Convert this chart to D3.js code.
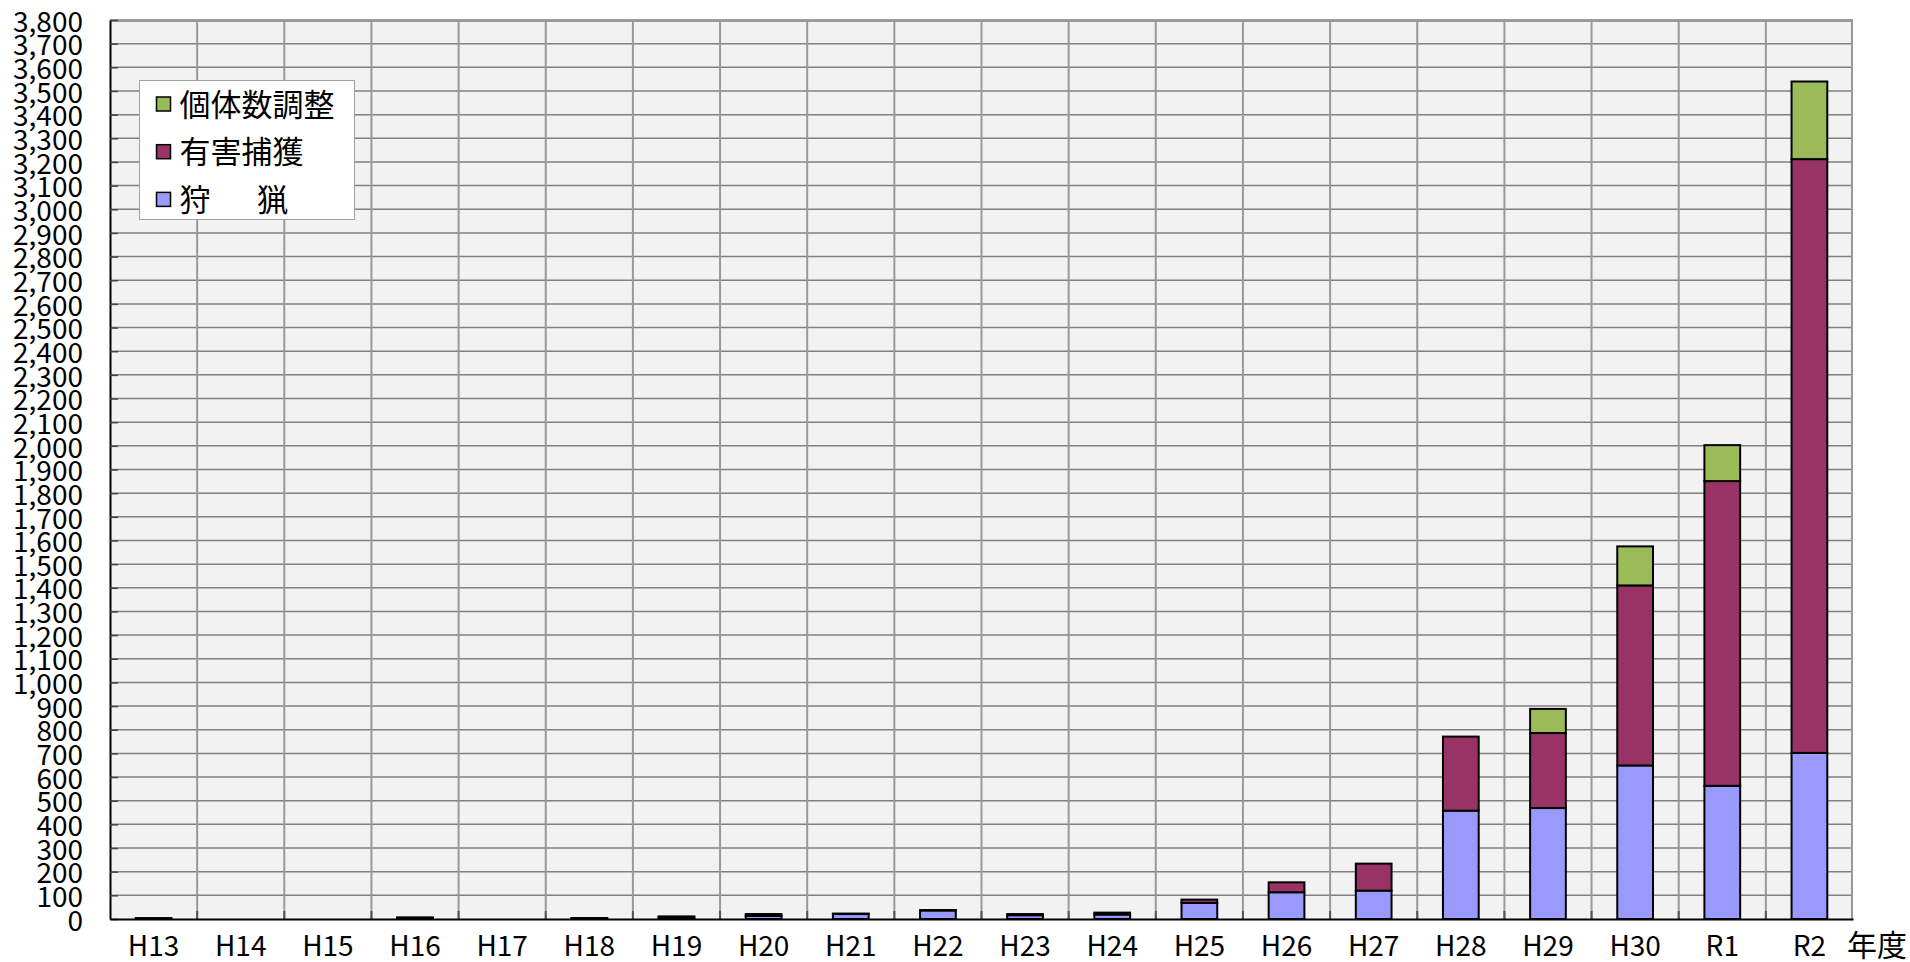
<!DOCTYPE html>
<html>
<head>
<meta charset="utf-8">
<script src="https://cdnjs.cloudflare.com/ajax/libs/d3/7.8.5/d3.min.js"></script>
<style>
  body { margin: 0; background: #fff; }
  text { font-family: "Noto Sans CJK JP", "Noto Sans", sans-serif; }
</style>
</head>
<body>
<div id="chart"></div>
<script>
// Step 1: data
var years = ["H13", "H14", "H15", "H16", "H17", "H18", "H19", "H20", "H21", "H22",
             "H23", "H24", "H25", "H26", "H27", "H28", "H29", "H30", "R1", "R2"];
var hunting = [4, 0, 0, 4, 0, 3, 7, 13, 21, 36, 16, 19, 68, 113, 120, 458, 469, 649, 563, 702];
var harmful = [0, 0, 0, 3, 0, 1, 4, 8, 2, 2, 5, 8, 14, 42, 114, 313, 317, 761, 1288, 2510];
var adjust  = [0, 0, 0, 0, 0, 0, 0, 0, 0, 0, 0, 0, 0, 0, 0, 0, 102, 165, 152, 328];

var seriesKeys = ["hunting", "harmful", "adjust"];
var seriesColors = { hunting: "#9999ff", harmful: "#993366", adjust: "#9bbb59" };
// legend order: top to bottom
var legendKeys = ["adjust", "harmful", "hunting"];
var legendLabels = { adjust: "個体数調整", harmful: "有害捕獲", hunting: "狩\u3000\u2002猟" };
var yMax = 3800;
var yStep = 100;
var xUnitLabel = "年度";

// Step 2: chart area
var svgWidth = 1910;
var svgHeight = 962;
var margin = { top: 20, right: 57, bottom: 43, left: 110 };
var width = svgWidth - margin.left - margin.right;
var height = svgHeight - margin.top - margin.bottom;

var svg = d3.select("#chart").append("svg")
  .attr("width", svgWidth)
  .attr("height", svgHeight);

var chartGroup = svg.append("g")
  .attr("transform", `translate(${margin.left}, ${margin.top})`);

// Step 3: build table and stack it
var table = years.map(function(y, i) {
  return { year: y, hunting: hunting[i], harmful: harmful[i], adjust: adjust[i] };
});
var stacked = d3.stack().keys(seriesKeys)(table);

// Step 4: scales
var xScale = d3.scaleBand()
  .domain(years)
  .range([0, width])
  .paddingInner(0.59)
  .paddingOuter(0.295);

var yScale = d3.scaleLinear()
  .domain([0, yMax])
  .range([height, 0]);

var yTicks = d3.range(0, yMax + 1, yStep);

// plot background
chartGroup.append("rect")
  .attr("width", width)
  .attr("height", height)
  .attr("fill", "#f2f2f2");

// horizontal gridlines
chartGroup.append("g")
  .selectAll("line")
  .data(yTicks.slice(1))
  .enter()
  .append("line")
  .attr("x1", 0)
  .attr("x2", width)
  .attr("y1", d => yScale(d))
  .attr("y2", d => yScale(d))
  .attr("stroke", "#808080")
  .attr("stroke-width", 1.5);

// vertical gridlines on category boundaries
var boundaries = d3.range(1, years.length).map(i => i * xScale.step());
chartGroup.append("g")
  .selectAll("line")
  .data(boundaries)
  .enter()
  .append("line")
  .attr("x1", d => d)
  .attr("x2", d => d)
  .attr("y1", 0)
  .attr("y2", height)
  .attr("stroke", "#999")
  .attr("stroke-width", 2);

// small inward ticks at the boundaries
chartGroup.append("g")
  .selectAll("line")
  .data(boundaries)
  .enter()
  .append("line")
  .attr("x1", d => d)
  .attr("x2", d => d)
  .attr("y1", height)
  .attr("y2", height - 8)
  .attr("stroke", "#555")
  .attr("stroke-width", 2);

// top and right frame
chartGroup.append("path")
  .attr("d", `M0,1 H${width - 1} V${height}`)
  .attr("fill", "none")
  .attr("stroke", "#999")
  .attr("stroke-width", 2);

// Step 5: bars
chartGroup.append("g")
  .selectAll("g")
  .data(stacked)
  .enter()
  .append("g")
  .attr("fill", d => seriesColors[d.key])
  .selectAll("rect")
  .data(d => d.filter(s => s[1] - s[0] > 0))
  .enter()
  .append("rect")
  .attr("x", d => xScale(d.data.year))
  .attr("y", d => yScale(d[1]))
  .attr("width", xScale.bandwidth())
  .attr("height", d => yScale(d[0]) - yScale(d[1]))
  .attr("stroke", "#000")
  .attr("stroke-width", 2);

// Step 6: axes
var yAxis = d3.axisLeft(yScale)
  .tickValues(yTicks)
  .tickFormat(d3.format(","))
  .tickSizeInner(-8)
  .tickSizeOuter(0)
  .tickPadding(27);

var yAxisGroup = chartGroup.append("g").call(yAxis);
yAxisGroup.select(".domain").attr("stroke", "#000").attr("stroke-width", 2);
yAxisGroup.selectAll(".tick line").attr("stroke", "#444").attr("stroke-width", 1.5);
yAxisGroup.selectAll("text")
  .attr("font-family", "'Noto Sans CJK JP', sans-serif")
  .attr("font-size", "28px")
  .attr("dy", "0.4em")
  .attr("fill", "#000");

var xAxis = d3.axisBottom(xScale)
  .tickSize(0)
  .tickPadding(17);

var xAxisGroup = chartGroup.append("g")
  .attr("transform", `translate(0, ${height})`)
  .call(xAxis);
xAxisGroup.select(".domain").attr("stroke", "#000").attr("stroke-width", 2);
xAxisGroup.selectAll("text")
  .attr("font-family", "'Noto Sans CJK JP', sans-serif")
  .attr("font-size", "28px")
  .attr("fill", "#000");

// unit label
chartGroup.append("text")
  .attr("x", width + 54)
  .attr("y", height + 37)
  .attr("text-anchor", "end")
  .attr("font-size", "30px")
  .attr("fill", "#000")
  .text(xUnitLabel);

// Step 7: legend
var legend = svg.append("g")
  .attr("transform", "translate(139.5, 80.5)");

legend.append("rect")
  .attr("width", 215)
  .attr("height", 139)
  .attr("fill", "#fff")
  .attr("stroke", "#a0a0a0")
  .attr("stroke-width", 1);

var legendItems = legend.selectAll(".item")
  .data(legendKeys)
  .enter()
  .append("g")
  .attr("class", "item")
  .attr("transform", (d, i) => `translate(0, ${23.5 + i * 47.7})`);

legendItems.append("rect")
  .attr("x", 17)
  .attr("y", -7)
  .attr("width", 14)
  .attr("height", 14)
  .attr("fill", d => seriesColors[d])
  .attr("stroke", "#000")
  .attr("stroke-width", 1.5);

legendItems.append("text")
  .attr("x", 40)
  .attr("y", 11.5)
  .attr("font-size", "31px")
  .attr("fill", "#000")
  .style("white-space", "pre")
  .text(d => legendLabels[d]);
</script>
</body>
</html>
